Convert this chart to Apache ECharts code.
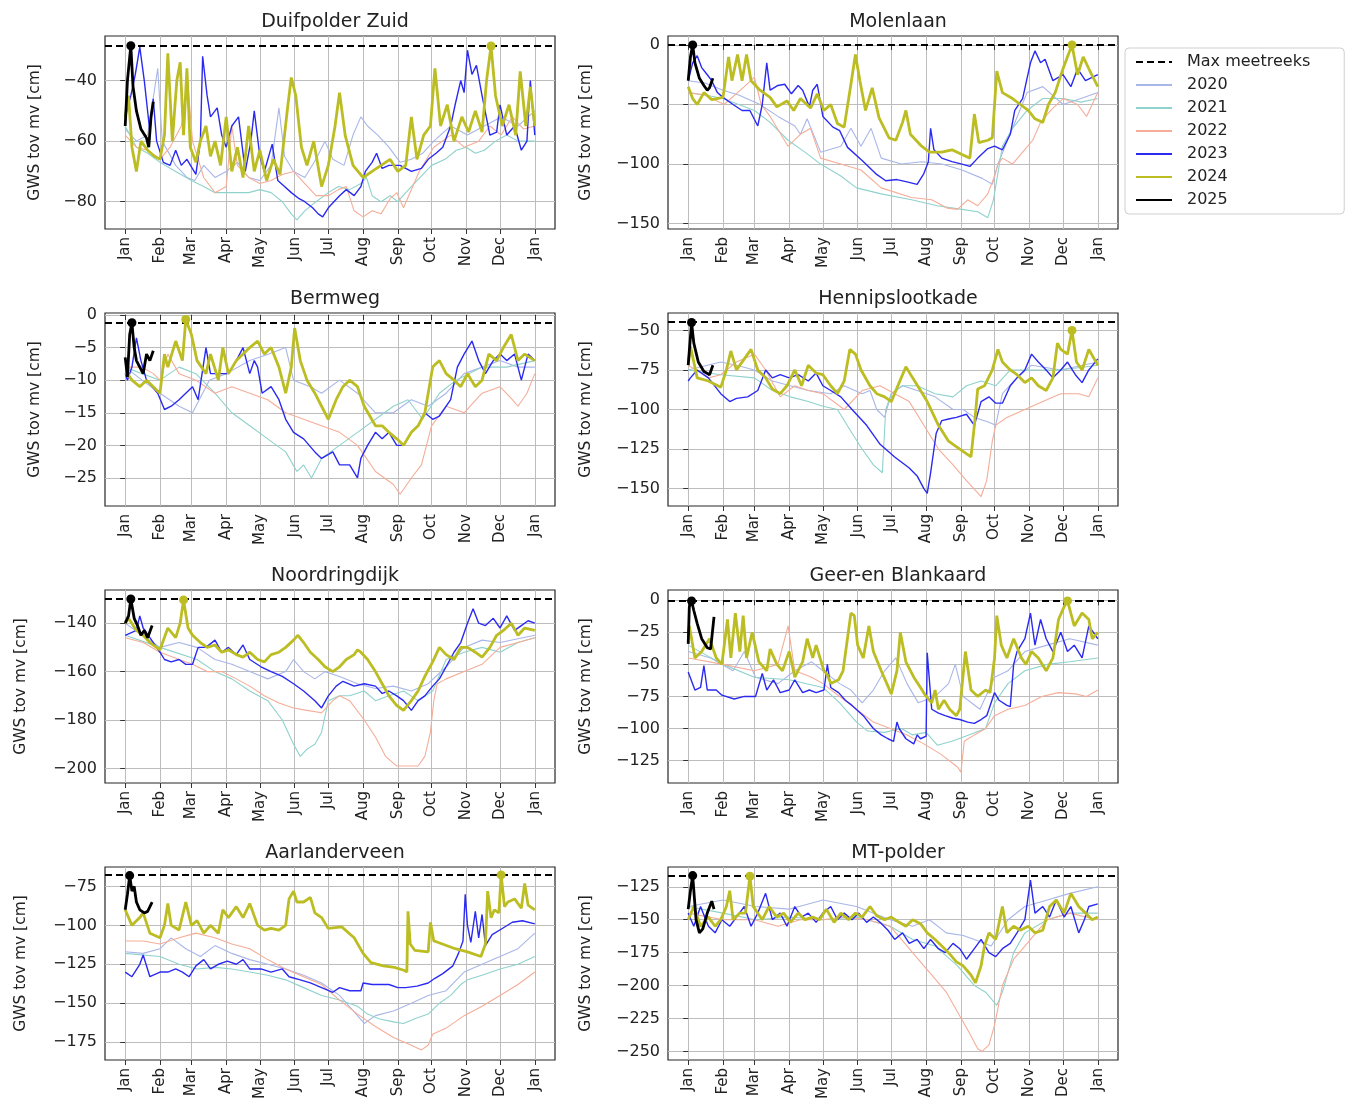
<!DOCTYPE html>
<html><head><meta charset="utf-8">
<script src="https://cdn.jsdelivr.net/npm/echarts@6/dist/echarts.min.js"></script>
<style>html,body{margin:0;padding:0;background:#fff}#c{width:1349px;height:1104px}</style>
</head><body><div id="c"></div><script>
// ---------- DATA (day of year, GWS tov mv [cm]) ----------
const monthDays = [0,31,59,90,120,151,181,212,243,273,304,334,365];
const monthLabels = ['Jan','Feb','Mar','Apr','May','Jun','Jul','Aug','Sep','Oct','Nov','Dec','Jan'];
const years = ['2020','2021','2022','2023','2024','2025'];
const panelTitles = ['Duifpolder Zuid','Molenlaan','Bermweg','Hennipslootkade','Noordringdijk','Geer-en Blankaard','Aarlanderveen','MT-polder'];
const maxMeetreeks = [-28.5, 0, -1.2, -44.5, -130, -0.5, -67.5, -116.5];
const yLimits = [[-89,-25.3],[-154.5,7.5],[-29.3,0.3],[-161,-39],[-206,-126.3],[-142.5,8],[-186.5,-62.5],[-256.5,-110]];
const yTicks = [[-80,-60,-40],[-150,-100,-50,0],[-25,-20,-15,-10,-5,0],[-150,-125,-100,-75,-50],[-200,-180,-160,-140],[-125,-100,-75,-50,-25,0],[-175,-150,-125,-100,-75],[-250,-225,-200,-175,-150,-125]];

// Duifpolder Zuid
const duif_2020 = [[0,-56],[10,-60],[20,-58],[29,-36],[33,-60],[45,-68],[55,-72],[62,-73],[70,-68],[80,-72],[90,-70],[100,-67],[110,-72],[120,-73],[130,-68],[137,-49],[142,-65],[150,-70],[160,-72],[170,-66],[178,-60],[185,-66],[195,-68],[203,-58],[210,-52],[216,-55],[225,-58],[235,-62],[245,-67],[255,-66],[265,-64],[275,-60],[290,-55],[305,-58],[320,-55],[335,-52],[350,-55],[365,-50]];
const duif_2021 = [[0,-55],[10,-62],[20,-64],[31,-67],[45,-70],[59,-73],[70,-75],[80,-77],[90,-77],[100,-77],[110,-77],[120,-76],[130,-77],[140,-80],[148,-84],[153,-86],[160,-83],[170,-80],[181,-77],[190,-75],[200,-76],[210,-74],[215,-72],[220,-78],[228,-80],[236,-78],[243,-80],[250,-77],[260,-73],[273,-68],[285,-66],[295,-63],[304,-62],[312,-64],[320,-63],[330,-60],[340,-58],[350,-60],[365,-60]];
const duif_2022 = [[0,-58],[10,-62],[20,-63],[31,-66],[40,-62],[50,-55],[56,-42],[60,-60],[70,-72],[80,-77],[90,-75],[95,-55],[100,-68],[110,-72],[120,-74],[130,-73],[140,-71],[150,-70],[160,-74],[170,-78],[181,-78],[190,-76],[197,-75],[204,-83],[212,-85],[220,-83],[228,-84],[236,-79],[242,-77],[248,-82],[262,-70],[275,-62],[290,-58],[302,-62],[315,-60],[325,-55],[335,-58],[345,-52],[355,-56],[365,-55]];
const duif_2023 = [[0,-52],[5,-45],[9,-38],[13,-29],[17,-40],[22,-57],[25,-46],[28,-60],[34,-67],[40,-68],[45,-63],[50,-68],[55,-66],[63,-71],[67,-60],[69,-32],[73,-45],[76,-52],[82,-49],[86,-58],[90,-62],[95,-55],[101,-52],[107,-70],[112,-60],[115,-50],[120,-65],[124,-70],[131,-61],[136,-73],[142,-75],[148,-77],[155,-79],[160,-80],[167,-82],[172,-84],[176,-85],[181,-82],[186,-80],[191,-78],[197,-76],[204,-78],[210,-75],[214,-70],[220,-67],[224,-64],[229,-69],[235,-68],[245,-68],[255,-70],[264,-69],[270,-66],[277,-64],[283,-62],[290,-55],[294,-48],[299,-40],[302,-44],[305,-30],[309,-38],[313,-35],[318,-45],[325,-58],[331,-57],[334,-48],[340,-58],[347,-55],[353,-63],[358,-60],[361,-40],[365,-58]];
const duif_2024 = [[0,-52],[3,-45],[6,-62],[10,-70],[14,-60],[20,-63],[26,-65],[31,-66],[35,-58],[38,-31],[42,-60],[46,-40],[49,-34],[52,-58],[55,-36],[58,-62],[63,-67],[67,-60],[72,-55],[76,-65],[80,-60],[85,-68],[90,-52],[95,-70],[100,-62],[105,-72],[110,-55],[115,-70],[120,-63],[126,-73],[132,-66],[138,-71],[145,-48],[148,-39],[152,-45],[157,-62],[162,-68],[168,-60],[175,-75],[181,-68],[187,-55],[191,-44],[196,-58],[203,-68],[212,-72],[220,-70],[228,-68],[236,-66],[243,-70],[250,-68],[255,-52],[260,-66],[266,-58],[272,-55],[276,-36],[281,-55],[287,-48],[293,-60],[300,-52],[306,-57],[312,-50],[318,-57],[322,-40],[326,-28.6],[330,-45],[336,-55],[342,-48],[348,-58],[352,-37],[357,-55],[361,-42],[365,-55]];
const duif_2025 = [[0,-55],[2,-40],[5,-28.5],[7,-42],[10,-50],[14,-56],[19,-59],[21,-62],[23,-52],[25,-47]];

// Molenlaan
const molen_2020 = [[0,-30],[15,-32],[31,-38],[45,-42],[64,-50],[80,-60],[95,-68],[100,-75],[106,-62],[118,-90],[136,-85],[145,-70],[154,-85],[163,-70],[172,-95],[190,-100],[208,-98],[226,-100],[244,-105],[262,-112],[271,-117],[276,-100],[289,-70],[302,-40],[316,-35],[334,-50],[350,-45],[365,-40]];
const molen_2021 = [[0,-40],[15,-42],[31,-45],[59,-55],[73,-65],[89,-80],[104,-90],[118,-100],[136,-110],[150,-120],[172,-125],[199,-130],[222,-135],[244,-138],[258,-140],[267,-145],[272,-130],[280,-85],[289,-70],[302,-55],[316,-45],[334,-45],[350,-48],[365,-45]];
const molen_2022 = [[0,-40],[15,-42],[32,-50],[50,-35],[59,-27],[65,-50],[73,-60],[89,-85],[100,-75],[109,-70],[118,-95],[136,-100],[154,-105],[172,-120],[199,-128],[217,-130],[231,-137],[240,-138],[249,-130],[258,-135],[267,-125],[273,-110],[276,-100],[280,-95],[289,-100],[298,-90],[307,-80],[314,-65],[323,-55],[334,-45],[347,-50],[355,-60],[365,-40]];
const molen_2023 = [[0,-30],[4,-15],[8,-9],[12,-19],[17,-25],[21,-30],[26,-40],[31,-44],[40,-50],[48,-55],[55,-55],[62,-68],[66,-50],[70,-15],[73,-38],[80,-34],[86,-33],[92,-41],[98,-34],[102,-38],[108,-52],[111,-38],[115,-33],[120,-60],[129,-69],[135,-72],[142,-86],[155,-97],[167,-108],[176,-114],[186,-113],[195,-115],[204,-117],[210,-108],[214,-98],[216,-70],[219,-88],[226,-95],[235,-98],[244,-100],[251,-102],[258,-95],[267,-87],[273,-85],[280,-88],[287,-75],[291,-55],[298,-45],[305,-15],[309,-5],[314,-15],[318,-12],[325,-30],[334,-25],[341,-35],[347,-20],[354,-30],[365,-25]];
const molen_2024 = [[0,-35],[4,-45],[8,-50],[14,-40],[21,-46],[31,-44],[36,-10],[39,-30],[44,-8],[48,-30],[52,-8],[56,-30],[64,-38],[73,-44],[79,-52],[88,-47],[94,-55],[100,-45],[109,-53],[115,-41],[121,-55],[127,-50],[133,-66],[139,-69],[145,-33],[149,-8],[153,-30],[158,-55],[164,-36],[170,-61],[179,-78],[185,-80],[191,-65],[194,-55],[198,-75],[208,-85],[215,-90],[226,-90],[235,-88],[244,-92],[251,-95],[255,-58],[259,-82],[267,-80],[271,-78],[275,-22],[280,-40],[289,-45],[296,-50],[303,-55],[309,-62],[316,-65],[321,-50],[327,-40],[334,-20],[338,-10],[342,0],[347,-25],[352,-10],[357,-20],[365,-35]];
const molen_2025 = [[0,-30],[2,-10],[4,0],[6,-15],[10,-28],[14,-34],[17,-38],[19,-36],[22,-28]];

// Bermweg
const berm_2020 = [[0,-8],[15,-10],[31,-12],[48,-14],[60,-15],[75,-10],[90,-9],[111,-7],[128,-6],[143,-5],[150,-10],[165,-11],[175,-12],[191,-10],[207,-12],[223,-15],[239,-15],[255,-13],[270,-14],[286,-12],[302,-9],[318,-8],[334,-7],[350,-8],[365,-8]];
const berm_2021 = [[0,-8],[15,-9],[31,-10],[48,-8],[63,-9],[80,-12],[95,-15],[111,-17],[127,-19],[143,-21],[153,-24],[159,-23],[166,-25],[175,-22],[191,-20],[207,-18],[223,-16],[239,-14],[252,-13],[265,-16],[280,-12],[295,-10],[318,-8],[340,-8],[365,-7]];
const berm_2022 = [[0,-8],[15,-8],[25,-9],[31,-10],[38,-6],[48,-9],[63,-10],[80,-12],[95,-11],[111,-12],[127,-13],[143,-15],[159,-16],[175,-17],[191,-18],[207,-20],[223,-24],[239,-26],[245,-27.5],[255,-25],[264,-23],[273,-17],[286,-14],[302,-15],[318,-12],[334,-11],[345,-13],[350,-14],[358,-12],[365,-9]];
const berm_2023 = [[0,-9],[2,-10],[6,-8],[10,-3.5],[14,-7],[19,-10],[29,-12],[35,-14.5],[41,-14],[48,-13],[54,-12],[60,-11],[65,-13],[72,-5],[76,-9],[86,-9],[92,-9],[99,-7],[105,-5],[111,-9],[115,-7],[118,-8],[122,-12],[130,-11],[137,-13],[143,-16],[150,-18],[159,-19],[169,-21],[175,-22],[185,-21],[191,-23],[200,-23],[207,-25],[210,-22],[216,-20],[223,-18],[229,-19],[235,-18],[242,-20],[248,-20],[255,-18],[261,-17],[267,-15],[274,-16],[280,-15.5],[290,-13],[296,-8],[302,-6],[309,-4],[315,-7],[321,-9],[328,-7],[334,-6],[340,-7],[347,-6],[353,-10],[359,-6],[365,-7]];
const berm_2024 = [[0,-9],[2,-9],[6,-10],[13,-11],[19,-10],[25,-11],[31,-12],[35,-6],[38,-8],[45,-4],[51,-7],[54,-0.7],[59,-3],[64,-7],[72,-9],[76,-6],[83,-10],[87,-5],[92,-9],[99,-7],[105,-6],[111,-5],[118,-4],[124,-6],[130,-5],[137,-8],[143,-12],[148,-8],[151,-2],[156,-7],[162,-10],[169,-12],[175,-14],[181,-16],[188,-13],[194,-11],[200,-10],[207,-11],[213,-14],[223,-17],[229,-17],[235,-18],[242,-19],[248,-20],[255,-18],[261,-17],[267,-15],[274,-8],[280,-7],[286,-9],[293,-10],[299,-11],[305,-9],[312,-11],[318,-10],[324,-6],[331,-7],[337,-5],[344,-3],[350,-7],[356,-6],[365,-7]];
const berm_2025 = [[0,-6.5],[2,-9.5],[4,-3],[6,-1.2],[8,-5],[10,-7],[13,-8],[16,-9],[19,-6],[22,-7],[25,-5.5]];

// Hennipslootkade
const henni_2020 = [[0,-75],[29,-70],[43,-72],[59,-75],[75,-82],[91,-85],[107,-88],[127,-90],[139,-85],[155,-90],[162,-88],[168,-100],[175,-105],[181,-90],[191,-85],[204,-88],[220,-92],[236,-100],[245,-100],[255,-105],[268,-108],[274,-110],[280,-90],[293,-80],[306,-72],[332,-75],[365,-70]];
const henni_2021 = [[0,-75],[29,-78],[59,-80],[75,-88],[91,-92],[107,-95],[120,-98],[133,-100],[146,-115],[155,-125],[165,-135],[173,-140],[176,-100],[181,-90],[191,-85],[204,-85],[220,-90],[236,-92],[248,-85],[261,-82],[274,-85],[287,-75],[300,-75],[332,-75],[365,-72]];
const henni_2022 = [[0,-72],[18,-80],[29,-78],[43,-70],[59,-65],[69,-75],[82,-92],[95,-85],[107,-88],[120,-90],[139,-100],[155,-88],[171,-85],[184,-90],[197,-95],[210,-110],[223,-125],[236,-135],[248,-145],[261,-155],[266,-145],[271,-120],[274,-110],[284,-105],[300,-100],[316,-95],[332,-90],[348,-90],[357,-92],[365,-80]];
const henni_2023 = [[0,-82],[2,-80],[8,-75],[18,-80],[29,-90],[37,-95],[43,-93],[53,-92],[62,-88],[69,-75],[75,-80],[82,-78],[90,-80],[98,-78],[107,-82],[114,-77],[120,-85],[127,-88],[136,-92],[146,-100],[159,-110],[171,-122],[184,-130],[197,-137],[204,-142],[210,-150],[213,-153],[216,-140],[221,-115],[226,-107],[232,-106],[239,-105],[248,-103],[255,-110],[261,-95],[268,-92],[274,-96],[280,-96],[287,-85],[293,-80],[300,-75],[306,-65],[312,-70],[319,-75],[325,-80],[332,-75],[338,-70],[345,-78],[351,-83],[357,-75],[365,-68]];
const henni_2024 = [[0,-72],[2,-60],[8,-80],[18,-82],[29,-86],[34,-75],[38,-63],[43,-75],[50,-68],[56,-62],[62,-75],[69,-80],[75,-87],[82,-90],[88,-85],[95,-75],[101,-85],[107,-72],[114,-77],[120,-78],[127,-85],[133,-90],[139,-82],[144,-62],[149,-65],[154,-75],[162,-85],[168,-90],[175,-92],[181,-95],[188,-83],[194,-73],[200,-80],[207,-88],[213,-95],[223,-110],[232,-120],[242,-125],[252,-130],[255,-110],[258,-87],[264,-85],[271,-75],[276,-62],[280,-70],[287,-75],[293,-78],[300,-83],[306,-80],[312,-85],[319,-88],[325,-80],[329,-58],[332,-62],[338,-65],[342,-50],[346,-70],[351,-75],[357,-62],[365,-72]];
const henni_2025 = [[0,-72],[3,-45],[5,-58],[9,-70],[14,-76],[19,-78],[22,-72]];

// Noordringdijk
const noord_2020 = [[0,-140],[31,-150],[48,-148],[64,-150],[80,-155],[95,-157],[111,-160],[127,-163],[143,-160],[150,-155],[159,-160],[169,-163],[178,-160],[191,-162],[207,-165],[223,-167],[239,-166],[255,-168],[270,-165],[286,-158],[302,-150],[318,-147],[334,-148],[365,-145]];
const noord_2021 = [[0,-145],[31,-150],[64,-155],[80,-160],[95,-163],[111,-168],[127,-172],[140,-180],[150,-190],[156,-195],[162,-192],[169,-190],[175,-185],[181,-172],[191,-170],[200,-170],[213,-168],[223,-172],[235,-170],[248,-168],[261,-172],[274,-168],[286,-155],[302,-152],[318,-150],[334,-152],[350,-148],[365,-146]];
const noord_2022 = [[0,-146],[16,-148],[31,-152],[48,-155],[60,-157],[73,-160],[86,-160],[99,-163],[111,-166],[124,-170],[137,-173],[150,-175],[162,-176],[175,-177],[185,-172],[191,-170],[200,-172],[213,-180],[223,-187],[232,-195],[242,-199],[251,-199],[261,-199],[267,-195],[272,-185],[275,-172],[278,-165],[286,-163],[302,-160],[318,-157],[334,-150],[350,-148],[365,-146]];
const noord_2023 = [[0,-145],[10,-143],[13,-137],[16,-142],[22,-146],[31,-152],[35,-155],[41,-156],[48,-155],[54,-157],[60,-157],[65,-150],[72,-150],[80,-147],[86,-152],[92,-150],[99,-153],[105,-149],[111,-155],[121,-158],[130,-160],[140,-162],[150,-165],[159,-168],[169,-172],[175,-175],[181,-170],[188,-166],[194,-164],[204,-166],[213,-165],[223,-166],[229,-169],[235,-168],[242,-170],[248,-172],[255,-176],[261,-172],[267,-170],[274,-166],[280,-163],[286,-158],[293,-152],[299,-148],[305,-140],[310,-134],[315,-140],[321,-141],[328,-138],[334,-142],[340,-137],[347,-143],[353,-141],[359,-139],[365,-140]];
const noord_2024 = [[0,-140],[3,-138],[10,-143],[16,-145],[22,-148],[31,-151],[38,-142],[45,-146],[49,-140],[52,-130.4],[56,-142],[60,-145],[67,-148],[73,-150],[80,-149],[86,-152],[92,-151],[99,-153],[105,-154],[111,-152],[118,-155],[124,-156],[130,-153],[137,-152],[143,-150],[150,-147],[154,-145],[159,-148],[165,-152],[172,-155],[178,-158],[185,-160],[191,-158],[197,-155],[204,-153],[207,-151],[210,-152],[216,-155],[223,-160],[229,-165],[235,-170],[242,-174],[248,-176],[255,-172],[261,-168],[267,-162],[274,-156],[280,-150],[286,-153],[293,-155],[299,-150],[305,-150],[312,-152],[318,-154],[325,-150],[331,-145],[337,-143],[344,-140],[350,-145],[356,-142],[365,-143]];
const noord_2025 = [[0,-140],[3,-137],[5,-130],[8,-138],[11,-141],[14,-145],[17,-143],[20,-146],[24,-141]];

// Geer-en Blankaard
const geer_2020 = [[0,-40],[20,-45],[40,-55],[50,-40],[60,-60],[80,-65],[95,-55],[110,-48],[120,-55],[135,-65],[145,-70],[155,-80],[165,-70],[175,-55],[185,-45],[195,-65],[205,-80],[220,-75],[232,-65],[238,-50],[245,-75],[260,-85],[273,-60],[285,-55],[300,-40],[320,-35],[340,-30],[365,-35]];
const geer_2021 = [[0,-35],[31,-50],[59,-60],[90,-62],[120,-68],[135,-80],[150,-95],[160,-102],[175,-103],[190,-100],[200,-105],[212,-103],[222,-113],[235,-110],[250,-105],[265,-100],[273,-80],[285,-65],[300,-55],[320,-50],[340,-48],[365,-45]];
const geer_2022 = [[0,-45],[31,-50],[59,-55],[80,-50],[89,-20],[95,-55],[110,-60],[120,-65],[135,-75],[150,-85],[165,-95],[180,-100],[195,-105],[210,-112],[225,-120],[240,-130],[243,-134],[246,-110],[255,-105],[265,-100],[273,-90],[285,-85],[300,-82],[315,-75],[330,-72],[345,-73],[355,-75],[365,-70]];
const geer_2023 = [[0,-56],[6,-70],[11,-68],[14,-51],[17,-70],[25,-70],[30,-74],[41,-77],[50,-75],[60,-75],[66,-57],[70,-70],[76,-62],[82,-72],[90,-70],[95,-62],[102,-72],[108,-70],[114,-72],[121,-70],[124,-50],[127,-68],[134,-72],[140,-78],[146,-82],[156,-90],[165,-100],[172,-105],[178,-108],[183,-110],[186,-95],[188,-100],[194,-108],[201,-112],[204,-105],[207,-108],[212,-106],[213,-41],[217,-85],[223,-88],[229,-90],[236,-92],[242,-93],[249,-95],[255,-96],[261,-93],[266,-90],[268,-85],[273,-72],[277,-78],[284,-82],[287,-83],[290,-50],[293,-40],[300,-30],[305,-10],[309,-35],[314,-15],[319,-30],[325,-40],[332,-25],[338,-40],[344,-35],[351,-45],[357,-20],[365,-30]];
const geer_2024 = [[0,-25],[1,-20],[6,-45],[12,-40],[19,-30],[25,-45],[30,-50],[35,-15],[38,-45],[42,-10],[46,-40],[49,-12],[52,-45],[57,-25],[63,-48],[70,-55],[73,-38],[79,-50],[84,-55],[90,-40],[95,-60],[102,-48],[106,-30],[111,-45],[114,-35],[121,-55],[124,-58],[127,-65],[134,-62],[138,-55],[145,-10],[148,-12],[151,-35],[156,-45],[161,-20],[165,-40],[172,-55],[177,-65],[181,-73],[186,-55],[189,-25],[194,-48],[201,-60],[207,-68],[212,-75],[217,-80],[220,-70],[223,-85],[228,-78],[233,-85],[239,-90],[242,-85],[247,-40],[252,-70],[258,-75],[265,-70],[269,-72],[273,-45],[275,-12],[279,-35],[284,-45],[290,-30],[297,-45],[301,-50],[306,-40],[312,-45],[319,-55],[325,-45],[330,-15],[335,-5],[338,-0.5],[344,-20],[351,-10],[357,-15],[360,-30],[365,-25]];
const geer_2025 = [[0,-34],[1,-5],[3,-0.5],[5,-8],[8,-18],[12,-30],[17,-37],[20,-38],[23,-13]];

// Aarlanderveen
const aarl_2020 = [[0,-117],[16,-118],[31,-115],[41,-108],[54,-115],[67,-120],[80,-113],[95,-118],[111,-122],[127,-125],[143,-128],[159,-132],[175,-137],[191,-145],[207,-158],[213,-163],[223,-158],[239,-155],[255,-150],[270,-145],[286,-142],[302,-130],[318,-125],[334,-120],[350,-115],[365,-105]];
const aarl_2021 = [[0,-118],[31,-120],[48,-125],[64,-128],[80,-127],[95,-128],[111,-130],[127,-132],[143,-135],[159,-140],[175,-145],[191,-148],[207,-152],[216,-157],[226,-160],[239,-162],[248,-163],[258,-160],[270,-157],[280,-150],[290,-145],[299,-138],[305,-135],[318,-132],[334,-128],[350,-125],[365,-120]];
const aarl_2022 = [[0,-110],[16,-110],[31,-112],[48,-108],[63,-105],[80,-108],[95,-112],[111,-115],[127,-122],[143,-128],[159,-133],[175,-138],[191,-148],[207,-157],[223,-165],[239,-172],[255,-177],[264,-180],[270,-177],[274,-170],[286,-166],[302,-158],[318,-152],[334,-145],[350,-138],[365,-130]];
const aarl_2023 = [[0,-130],[6,-133],[13,-125],[16,-119],[22,-133],[31,-130],[38,-130],[45,-128],[51,-130],[57,-133],[63,-126],[70,-122],[76,-128],[83,-125],[91,-123],[99,-125],[105,-122],[111,-128],[121,-128],[130,-130],[140,-128],[146,-133],[156,-135],[165,-137],[175,-140],[185,-143],[191,-140],[200,-142],[210,-142],[212,-137],[220,-138],[235,-138],[243,-140],[250,-140],[260,-139],[270,-137],[276,-134],[283,-131],[292,-126],[297,-118],[301,-110],[303,-80],[305,-100],[308,-111],[312,-91],[315,-108],[318,-93],[321,-113],[327,-106],[336,-102],[345,-98],[354,-97],[365,-99]];
const aarl_2024 = [[0,-90],[6,-100],[13,-95],[16,-92],[22,-105],[31,-108],[35,-100],[38,-86],[41,-100],[48,-103],[54,-85],[59,-100],[64,-97],[70,-105],[76,-100],[83,-105],[87,-90],[92,-95],[99,-88],[105,-95],[111,-86],[118,-100],[124,-103],[130,-102],[137,-103],[143,-100],[146,-83],[150,-78],[153,-85],[159,-85],[165,-82],[169,-92],[175,-95],[181,-102],[193,-101],[204,-108],[212,-118],[219,-124],[230,-126],[240,-127],[249,-129],[251,-130],[252,-91],[254,-112],[258,-116],[270,-117],[272,-98],[275,-110],[279,-111],[294,-115],[305,-117],[317,-120],[321,-112],[323,-78],[326,-95],[329,-90],[333,-92],[335,-67.6],[338,-88],[341,-85],[347,-83],[353,-89],[356,-73],[359,-87],[365,-90]];
const aarl_2025 = [[0,-90],[2,-80],[4,-68],[6,-78],[8,-75],[10,-85],[13,-90],[17,-92],[20,-91],[24,-85]];

// MT-polder
const mt_2020 = [[0,-140],[31,-135],[60,-140],[90,-142],[120,-135],[150,-140],[180,-150],[200,-155],[215,-150],[230,-160],[245,-162],[255,-165],[270,-170],[285,-150],[300,-140],[320,-135],[340,-130],[365,-125]];
const mt_2021 = [[0,-140],[31,-145],[60,-150],[90,-148],[120,-150],[150,-148],[180,-155],[200,-165],[220,-170],[240,-185],[255,-200],[265,-205],[275,-215],[280,-205],[290,-175],[300,-160],[320,-150],[340,-145],[365,-145]];
const mt_2022 = [[0,-145],[31,-150],[59,-150],[80,-155],[100,-150],[120,-150],[140,-148],[160,-150],[180,-155],[190,-165],[200,-175],[210,-185],[220,-195],[230,-205],[240,-220],[250,-235],[258,-248],[262,-250],[268,-245],[273,-230],[280,-200],[290,-180],[300,-170],[310,-160],[320,-150],[340,-145],[365,-150]];
const mt_2023 = [[0,-145],[5,-155],[11,-140],[18,-155],[24,-160],[30,-150],[37,-155],[43,-148],[50,-140],[56,-155],[62,-145],[69,-130],[75,-150],[82,-145],[88,-155],[95,-140],[101,-148],[107,-145],[114,-152],[120,-145],[127,-140],[133,-150],[139,-145],[146,-150],[152,-145],[159,-152],[165,-148],[171,-152],[178,-158],[184,-165],[191,-160],[197,-168],[204,-165],[210,-172],[216,-165],[223,-172],[229,-175],[236,-168],[242,-172],[248,-180],[255,-172],[261,-165],[268,-175],[274,-178],[280,-172],[287,-168],[293,-160],[300,-150],[305,-120],[309,-145],[316,-140],[322,-148],[328,-135],[335,-148],[341,-140],[348,-160],[353,-150],[357,-140],[365,-138]];
const mt_2024 = [[0,-150],[5,-140],[11,-155],[18,-148],[24,-155],[29,-150],[34,-140],[37,-128],[40,-150],[46,-145],[51,-145],[55,-117],[58,-140],[62,-145],[66,-150],[72,-140],[79,-148],[85,-145],[91,-152],[98,-145],[104,-150],[111,-148],[117,-150],[123,-142],[130,-152],[136,-145],[143,-150],[149,-145],[155,-148],[162,-140],[168,-147],[175,-150],[181,-148],[188,-152],[194,-155],[200,-150],[207,-153],[213,-160],[220,-165],[226,-170],[232,-175],[239,-182],[245,-185],[252,-192],[256,-198],[261,-185],[264,-170],[268,-160],[274,-165],[280,-140],[284,-160],[290,-155],[296,-158],[303,-155],[309,-160],[316,-158],[322,-140],[328,-135],[335,-145],[341,-130],[348,-140],[354,-145],[360,-150],[365,-148]];
const mt_2025 = [[0,-142],[2,-128],[4,-116.5],[7,-150],[10,-160],[13,-157],[17,-145],[21,-136],[23,-142]];

const panelSeries = [
  [duif_2020, duif_2021, duif_2022, duif_2023, duif_2024, duif_2025],
  [molen_2020, molen_2021, molen_2022, molen_2023, molen_2024, molen_2025],
  [berm_2020, berm_2021, berm_2022, berm_2023, berm_2024, berm_2025],
  [henni_2020, henni_2021, henni_2022, henni_2023, henni_2024, henni_2025],
  [noord_2020, noord_2021, noord_2022, noord_2023, noord_2024, noord_2025],
  [geer_2020, geer_2021, geer_2022, geer_2023, geer_2024, geer_2025],
  [aarl_2020, aarl_2021, aarl_2022, aarl_2023, aarl_2024, aarl_2025],
  [mt_2020, mt_2021, mt_2022, mt_2023, mt_2024, mt_2025]
];

// ---------- STYLE / LAYOUT ----------
const FONT = '"DejaVu Sans", sans-serif';
const gridLefts = [105, 668];
const gridTops = [36, 313, 590, 867];
const gridW = 450, gridH = 193;
const nameGaps = [62, 74, 62, 74, 76, 74, 76, 74];
const yearStyle = [
  {color:'#a9b6e8', width:1.1},
  {color:'#8fd2cc', width:1.1},
  {color:'#f5ad98', width:1.1},
  {color:'#2a2af2', width:1.4},
  {color:'#bcbd22', width:2.8},
  {color:'#000000', width:2.8}
];
const minusFmt = v => (v < 0 ? '\u2212' + Math.abs(v) : String(v));

const grids = [], xAxes = [], yAxes = [], titles = [], series = [];
panelTitles.forEach((t, i) => {
  const col = i % 2, row = Math.floor(i / 2);
  grids.push({left: gridLefts[col], top: gridTops[row], width: gridW, height: gridH,
    show: true, borderColor: '#262626', borderWidth: 1.2, backgroundColor: 'transparent'});
  titles.push({text: t, left: gridLefts[col] + gridW / 2, top: gridTops[row] - 28, textAlign: 'center',
    textStyle: {fontFamily: FONT, fontSize: 19, fontWeight: 'normal', color: '#222'}});
  xAxes.push({type: 'value', gridIndex: i, min: -18, max: 383,
    axisLine: {show: false},
    axisTick: {show: true, customValues: monthDays, length: 5, lineStyle: {color: '#333', width: 1}},
    axisLabel: {customValues: monthDays, rotate: 90, margin: 8, fontFamily: FONT, fontSize: 15, color: '#222',
      formatter: v => monthLabels[monthDays.indexOf(v)]},
    splitLine: {show: true, customValues: monthDays, lineStyle: {color: '#bdbdbd', width: 1}}});
  yAxes.push({type: 'value', gridIndex: i, min: yLimits[i][0], max: yLimits[i][1],
    name: 'GWS tov mv [cm]', nameLocation: 'middle', nameGap: nameGaps[i],
    nameTextStyle: {fontFamily: FONT, fontSize: 15.5, color: '#222'},
    axisLine: {show: false},
    axisTick: {show: true, customValues: yTicks[i], length: 5, lineStyle: {color: '#333', width: 1}},
    axisLabel: {customValues: yTicks[i], margin: 8, fontFamily: FONT, fontSize: 16, color: '#222', formatter: minusFmt},
    splitLine: {show: true, customValues: yTicks[i], lineStyle: {color: '#bdbdbd', width: 1}}});
  years.forEach((yr, k) => {
    const st = yearStyle[k];
    const s = {type: 'line', name: yr, xAxisIndex: i, yAxisIndex: i, data: panelSeries[i][k],
      symbol: 'none', showSymbol: false, silent: true, animation: false, z: 2 + k,
      lineStyle: {color: st.color, width: st.width}, itemStyle: {color: st.color}};
    if (k >= 4) {
      s.markPoint = {symbol: 'circle', symbolSize: 9, silent: true, animation: false,
        label: {show: false}, itemStyle: {color: st.color},
        data: [{type: 'max', valueDim: 'y'}]};
    }
    series.push(s);
  });
  series.push({type: 'line', name: 'Max meetreeks', xAxisIndex: i, yAxisIndex: i, data: [],
    symbol: 'none', silent: true, animation: false, z: 10,
    lineStyle: {type: [7, 4], color: '#000', width: 2}, itemStyle: {color: '#000'},
    markLine: {silent: true, symbol: 'none', animation: false, label: {show: false},
      lineStyle: {type: [7, 4], color: '#000', width: 2},
      data: [{yAxis: maxMeetreeks[i]}]}});
});

const chart = echarts.init(document.getElementById('c'), null, {renderer: 'canvas'});
chart.setOption({
  animation: false,
  backgroundColor: '#fff',
  title: titles,
  grid: grids,
  xAxis: xAxes,
  yAxis: yAxes,
  legend: {
    data: ['Max meetreeks'].concat(years),
    orient: 'vertical', left: 1125, top: 48,
    padding: [6, 34, 6, 10],
    itemWidth: 36, itemHeight: 14, itemGap: 7,
    itemStyle: {opacity: 0},
    borderColor: '#cfcfcf', borderWidth: 1, borderRadius: 4, backgroundColor: 'rgba(255,255,255,0.8)',
    selectedMode: false,
    textStyle: {fontFamily: FONT, fontSize: 16, color: '#222', padding: [0, 0, 0, 10]}
  },
  series: series
});
</script></body></html>
